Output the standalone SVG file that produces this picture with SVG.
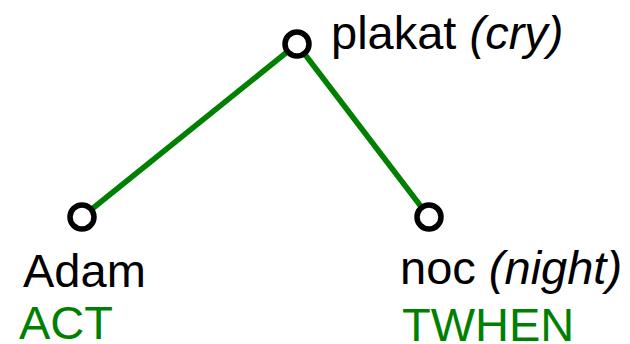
<svg xmlns="http://www.w3.org/2000/svg" width="630" height="344" viewBox="0 0 630 344">
<style>
.edge{stroke:#008000;stroke-width:5.5;fill:none}
.node{fill:#fff;stroke:#000;stroke-width:5.5}
.word{font-family:"Liberation Sans",Arial,sans-serif;font-size:47px;fill:#000}
.role{font-family:"Liberation Sans",Arial,sans-serif;font-size:47px;fill:#008000}
.it{font-style:italic}
</style>
<rect width="630" height="344" fill="#fff"/>
<g id="edges">
<line class="edge" x1="297" y1="44" x2="82" y2="217"/>
<line class="edge" x1="297" y1="44" x2="429" y2="217"/>
</g>
<g id="plakat">
<circle class="node" cx="297" cy="44" r="12"/>
<text class="word" x="331" y="49">plakat <tspan class="it">(cry)</tspan></text>
</g>
<g id="adam">
<circle class="node" cx="82" cy="217" r="12"/>
<text class="word" x="23" y="287">Adam</text>
<text class="role" x="19" y="339">ACT</text>
</g>
<g id="noc">
<circle class="node" cx="429" cy="217" r="12"/>
<text class="word" x="400" y="284">noc <tspan class="it">(night)</tspan></text>
<text class="role" x="402" y="341">TWHEN</text>
</g>
</svg>
